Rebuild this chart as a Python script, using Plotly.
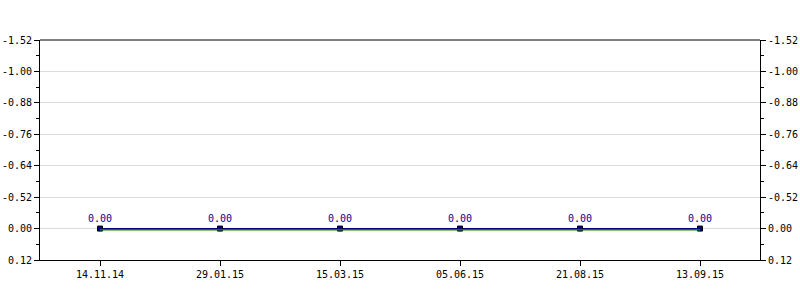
import plotly.graph_objects as go

dates = ["14.11.14", "29.01.15", "15.03.15", "05.06.15", "21.08.15", "13.09.15"]
values = [0.0, 0.0, 0.0, 0.0, 0.0, 0.0]
value_labels = ["0.00", "0.00", "0.00", "0.00", "0.00", "0.00"]
y_tick_labels = ["0.12", "0.00", "-0.52", "-0.64", "-0.76", "-0.88", "-1.00", "-1.52"]
y_tick_positions = [0.12, 0.0, -0.12, -0.24, -0.36, -0.48, -0.60, -0.72]

FONT = dict(family="DejaVu Sans Mono", size=10, color="#000000")
yrange = [0.12, -0.72]
px = (yrange[0] - yrange[1]) / 220.0

fig = go.Figure()
# green line (drawn slightly below)
fig.add_trace(go.Scatter(x=dates, y=values, mode="lines",
                         line=dict(color="#008000", width=1.3),
                         yaxis="y3", hoverinfo="skip", showlegend=False))
fig.add_trace(go.Scatter(x=dates, y=values, mode="lines+markers+text",
                         line=dict(color="#000080", width=1.3),
                         marker=dict(symbol="square", size=5, color="#000080",
                                     line=dict(color="#000000", width=1)),
                         text=value_labels, textposition="top center",
                         textfont=dict(family="DejaVu Sans Mono", size=10, color="#0000a0"),
                         showlegend=False))

axis_common = dict(range=yrange, tickvals=y_tick_positions, ticktext=y_tick_labels,
                   ticks="outside", ticklen=5, tickcolor="#000000",
                   showline=True, linecolor="#000000", linewidth=1,
                   tickfont=FONT, zeroline=False, automargin=False,
                   minor=dict(ticks="outside", ticklen=3, dtick=0.06, tick0=0,
                              tickcolor="#000000", showgrid=False))

fig.update_layout(
    width=800, height=300,
    margin=dict(l=40, r=40, t=40, b=40),
    paper_bgcolor="#ffffff", plot_bgcolor="#ffffff",
    font=FONT,
    xaxis=dict(type="category", range=[-0.5, 5.5], ticks="outside", ticklen=5,
               tickcolor="#000000", showline=True, linecolor="#000000", linewidth=1,
               mirror=False, showgrid=False, tickfont=FONT, zeroline=False,
               automargin=False),
    yaxis=dict(showgrid=True, gridcolor="#dcdcdc", gridwidth=1, side="left", **axis_common),
    yaxis2=dict(overlaying="y", side="right", showgrid=False, **axis_common),
    yaxis3=dict(overlaying="y", range=[yrange[0] - 1.2 * px, yrange[1] - 1.2 * px],
                visible=False),
    shapes=[dict(type="line", xref="paper", yref="paper", x0=0, x1=1, y0=1, y1=1,
                 line=dict(color="#000000", width=1))],
)
# dummy trace so the right axis renders
fig.add_trace(go.Scatter(x=[dates[0]], y=[None], yaxis="y2", showlegend=False, hoverinfo="skip"))

fig.write_html("out.html")
